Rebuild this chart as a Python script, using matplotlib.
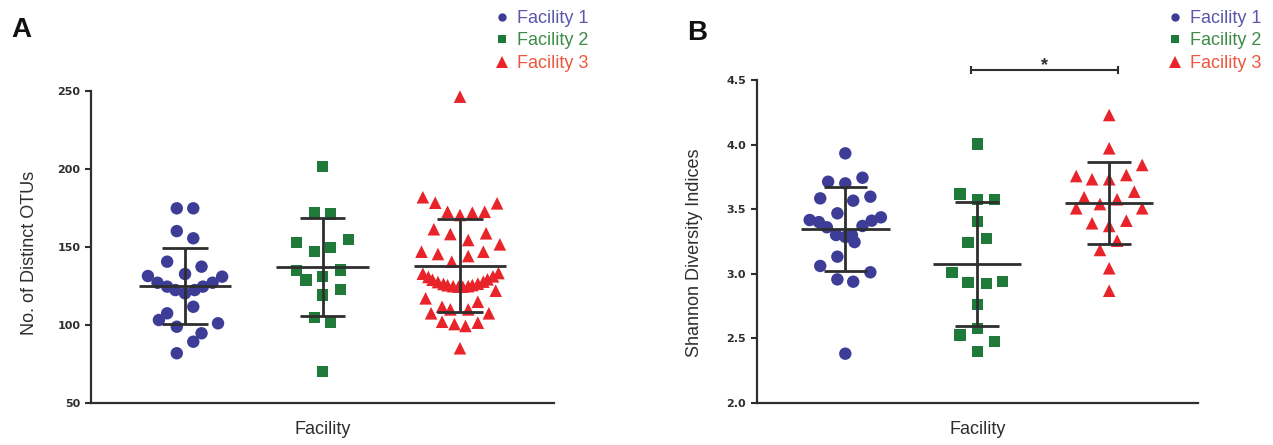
import matplotlib
matplotlib.use("Agg")
import matplotlib.pyplot as plt
from matplotlib.lines import Line2D
import numpy as np

# ---------------- data ----------------
categories = ["Facility 1", "Facility 2", "Facility 3"]

# Panel A: No. of distinct OTUs (value, horizontal swarm offset in category units)
otus_f1 = [174.6, 174.6, 160.0, 155.4, 140.4, 137.2, 132.5, 131.2, 130.8,
           126.9, 124.4, 122.2, 120.1, 122.2, 124.4, 126.9,
           111.5, 107.3, 103.0, 100.9, 98.7, 94.5, 89.1, 81.7]
otus_f1_off = [-0.06, 0.06, -0.06, 0.06, -0.13, 0.12, 0.0, -0.27, 0.27,
               -0.20, -0.13, -0.07, 0.0, 0.07, 0.13, 0.20,
               0.06, -0.13, -0.19, 0.24, -0.06, 0.12, 0.06, -0.06]
otus_f2 = [201.3, 171.8, 171.0, 152.6, 154.7, 146.8, 149.6, 134.6, 128.7,
           130.8, 135.0, 122.7, 119.0, 104.7, 101.3, 69.9]
otus_f2_off = [0.0, -0.06, 0.06, -0.19, 0.19, -0.06, 0.06, -0.19, -0.12,
               0.0, 0.13, 0.13, 0.0, -0.06, 0.06, 0.0]
otus_f3 = [246.2, 181.7, 178.2, 177.8, 172.4, 170.3, 171.8, 172.4, 161.2,
           158.1, 158.6, 154.3, 151.5, 146.8, 145.3, 144.0, 146.8, 140.4,
           132.7, 130.6, 128.8, 127.3, 126.1, 125.3, 124.7, 124.4,
           124.4, 124.7, 125.4, 126.3, 127.6, 129.1, 131.0, 133.1,
           121.8, 116.9, 114.7, 111.5, 109.8, 109.8, 107.3, 107.3,
           101.9, 100.4, 99.2, 101.3, 84.9]
otus_f3_off = [0.0, -0.27, -0.18, 0.27, -0.09, 0.0, 0.09, 0.18, -0.19,
               -0.07, 0.19, 0.06, 0.29, -0.28, -0.16, 0.06, 0.17, -0.06,
               -0.27, -0.23, -0.20, -0.16, -0.12, -0.09, -0.05, -0.01,
               0.02, 0.06, 0.09, 0.13, 0.17, 0.20, 0.24, 0.28,
               0.26, -0.25, 0.13, -0.13, -0.07, 0.06, -0.21, 0.21,
               -0.13, -0.04, 0.04, 0.13, 0.0]
otus_mean = [124.8, 136.8, 137.7]
otus_sd = [24.4, 31.4, 29.8]

# Panel B: Shannon diversity indices
shan_f1 = [3.933, 3.713, 3.700, 3.744, 3.584, 3.566, 3.597, 3.468,
           3.416, 3.400, 3.360, 3.300, 3.285, 3.300, 3.245, 3.370, 3.411, 3.437,
           3.132, 3.060, 3.011, 2.956, 2.938, 2.380]
shan_f1_off = [0.0, -0.13, 0.0, 0.13, -0.19, 0.06, 0.19, -0.06,
               -0.27, -0.20, -0.14, -0.07, 0.0, 0.05, 0.07, 0.13, 0.20, 0.27,
               -0.06, -0.19, 0.19, -0.06, 0.06, 0.0]
shan_f2 = [4.005, 3.618, 3.577, 3.577, 3.403, 3.240, 3.274, 3.008,
           2.930, 2.925, 2.938, 2.763, 2.577, 2.525, 2.473, 2.395]
shan_f2_off = [0.0, -0.13, 0.0, 0.13, 0.0, -0.07, 0.07, -0.19,
               -0.07, 0.07, 0.19, 0.0, 0.0, -0.13, 0.13, 0.0]
shan_f3 = [4.230, 3.972, 3.843, 3.757, 3.732, 3.732, 3.765, 3.636, 3.592,
           3.577, 3.540, 3.507, 3.507, 3.391, 3.411, 3.370, 3.256, 3.184,
           3.042, 2.868]
shan_f3_off = [0.0, 0.0, 0.25, -0.25, -0.13, 0.0, 0.13, 0.19, -0.19,
               0.06, -0.07, -0.25, 0.25, -0.13, 0.13, 0.0, 0.06, -0.07,
               0.0, 0.0]
shan_mean = [3.345, 3.075, 3.550]
shan_sd = [0.325, 0.478, 0.319]

sig_pair = (1.95, 3.07)
sig_level = 4.58
sig_label = "*"

# ---------------- style ----------------
plt.rcParams['font.family'] = ['Liberation Sans', 'DejaVu Sans']
marker_colors = ["#3d3d97", "#1f7a3a", "#e8232a"]
text_colors = ["#5b57aa", "#3f8c48", "#f0563e"]
markers = ["o", "s", "^"]
msizes = [80, 68, 82]
dark = "#2e2e2e"

fig = plt.figure(figsize=(12.73, 4.45), dpi=100)
W, H = 1273.0, 445.0

axA = fig.add_axes([91 / W, 1 - 402.7 / H, 463 / W, 312 / H])
axB = fig.add_axes([756.5 / W, 1 - 402.7 / H, 441.5 / W, 322.5 / H])


def style_axis(ax, ylim, yticks, fmt):
    ax.set_ylim(*ylim)
    ax.set_yticks(yticks)
    ax.set_yticklabels([fmt(v) for v in yticks], family='DejaVu Sans',
                       fontweight='bold', fontsize=8, color=dark)
    ax.set_xticks([])
    for s in ['top', 'right']:
        ax.spines[s].set_visible(False)
    for s in ['left', 'bottom']:
        ax.spines[s].set_linewidth(1.6)
        ax.spines[s].set_color(dark)
    ax.tick_params(axis='y', length=4.5, width=1.5, color=dark, pad=3)
    ax.set_xlabel("Facility", fontsize=13, color=dark, labelpad=13)


def draw_panel(ax, series, offsets, means, sds):
    for i, (vals, offs) in enumerate(zip(series, offsets)):
        xs = (i + 1) + np.asarray(offs)
        ax.scatter(xs, vals, s=msizes[i], marker=markers[i],
                   color=marker_colors[i], edgecolors='none',
                   zorder=2, clip_on=False)
        m, sd = means[i], sds[i]
        ax.hlines(m, i + 1 - 0.335, i + 1 + 0.335, color=dark, lw=2.0, zorder=3)
        ax.hlines([m - sd, m + sd], i + 1 - 0.165, i + 1 + 0.165,
                  color=dark, lw=2.0, zorder=3)
        ax.vlines(i + 1, m - sd, m + sd, color=dark, lw=2.0, zorder=3)


draw_panel(axA, [otus_f1, otus_f2, otus_f3],
           [otus_f1_off, otus_f2_off, otus_f3_off], otus_mean, otus_sd)
axA.set_xlim(0.316, 3.684)
style_axis(axA, (50, 250), [50, 100, 150, 200, 250], lambda v: f"{v:d}")

draw_panel(axB, [shan_f1, shan_f2, shan_f3],
           [shan_f1_off, shan_f2_off, shan_f3_off], shan_mean, shan_sd)
axB.set_xlim(0.327, 3.673)
style_axis(axB, (2.0, 4.5), [2.0, 2.5, 3.0, 3.5, 4.0, 4.5], lambda v: f"{v:.1f}")

# significance bracket
axB.plot(list(sig_pair), [sig_level, sig_level], color=dark, lw=1.5, clip_on=False)
axB.vlines(list(sig_pair), sig_level - 0.03, sig_level + 0.03, color=dark,
           lw=1.5, clip_on=False)
axB.text(sum(sig_pair) / 2, sig_level - 0.03, sig_label, ha='center', va='bottom',
         fontsize=13, fontweight='bold', color=dark)

# y labels
fig.text(30 / W, 1 - 253 / H, "No. of Distinct OTUs", rotation=90,
         ha='center', va='center', fontsize=13, color=dark)
fig.text(695 / W, 1 - 253 / H, "Shannon Diversity Indices", rotation=90,
         ha='center', va='center', fontsize=13, color=dark)

# panel letters
fig.text(11 / W, 1 - 37 / H, "A", fontsize=20, fontweight='bold', ha='left',
         va='baseline', color='#111111')
fig.text(687 / W, 1 - 40 / H, "B", fontsize=20, fontweight='bold', ha='left',
         va='baseline', color='#111111')

# legends
handles = [Line2D([], [], marker=markers[i], color=marker_colors[i], ls='none',
                  markersize=[6, 6, 8][i], markeredgewidth=0) for i in range(3)]
for ax, x0 in [(axA, 496.6), (axB, 1169.6)]:
    leg = ax.legend(handles, categories, loc='upper left',
                    bbox_to_anchor=(x0 / W, 1 - 10 / H),
                    bbox_transform=fig.transFigure, frameon=False,
                    fontsize=13, handlelength=0.6, handletextpad=0.53,
                    labelspacing=0.3, borderpad=0, borderaxespad=0,
                    labelcolor=text_colors)

fig.savefig("out.png", dpi=100)
